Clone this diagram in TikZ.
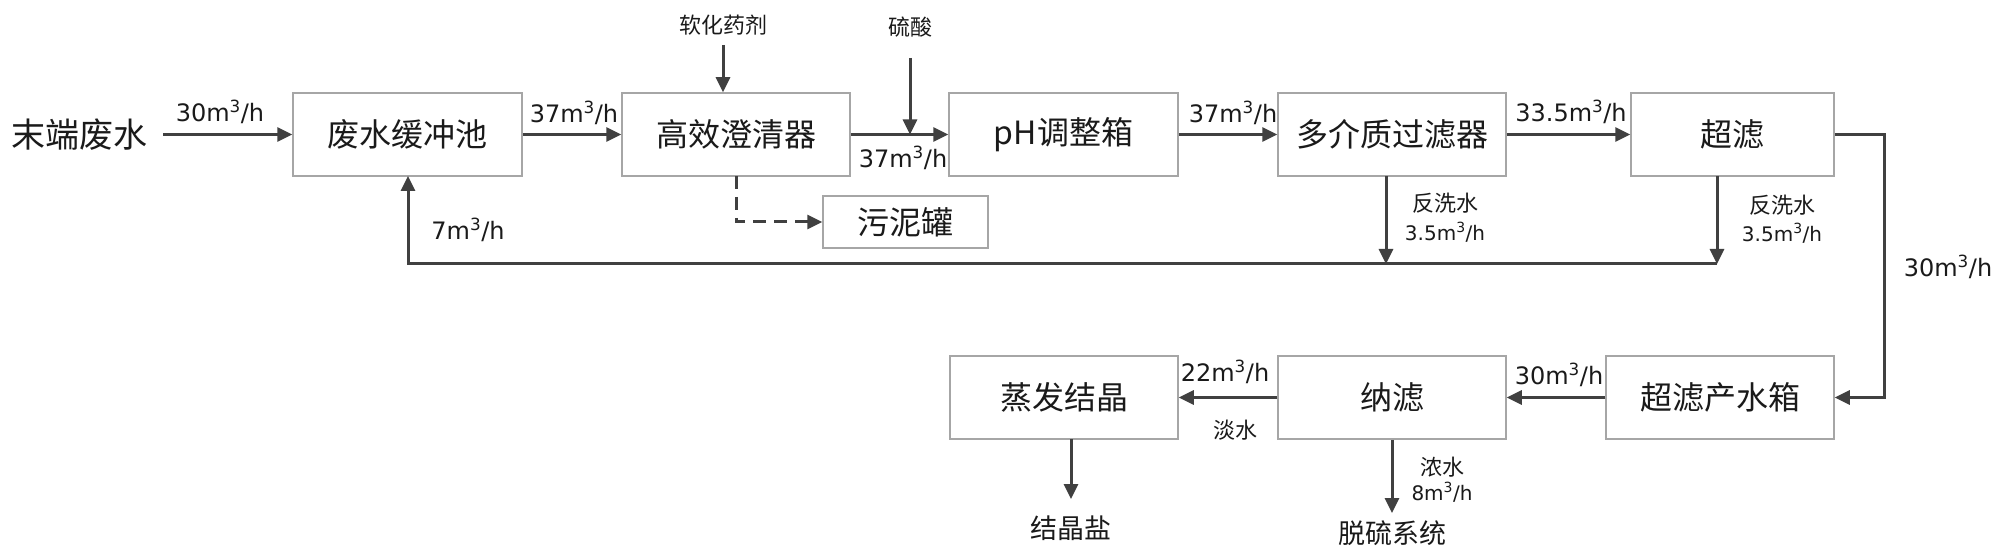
\documentclass[tikz,border=0pt]{standalone}
\usepackage{fontspec}
\setmainfont{DejaVu Sans}
\newfontfamily\cjk{Noto Sans CJK SC}
\usetikzlibrary{arrows.meta}
\definecolor{linegray}{HTML}{404040}
\definecolor{boxgray}{HTML}{A6A6A6}
\definecolor{txt}{HTML}{1A1A1A}
\tikzset{
  box/.style={draw=boxgray, line width=1.5pt, minimum width=228pt, minimum height=83pt,
    inner sep=0pt, text=txt, font=\cjk\fontsize{32}{32}\selectfont},
  flow/.style={draw=linegray, line width=3pt, -{Triangle[length=15pt,width=14pt]}},
  plainline/.style={draw=linegray, line width=3pt},
  dashflow/.style={draw=linegray, line width=3pt, dash pattern=on 13pt off 8pt, -{Triangle[length=15pt,width=14pt]}},
  lab/.style={inner sep=0pt, text=txt, font=\fontsize{24}{24}\selectfont},
  slab/.style={inner sep=0pt, text=txt, font=\fontsize{20}{20}\selectfont},
  cnsmall/.style={inner sep=0pt, text=txt, font=\cjk\fontsize{22}{22}\selectfont},
  cnmid/.style={inner sep=0pt, text=txt, font=\cjk\fontsize{27}{27}\selectfont},
  cnbig/.style={inner sep=0pt, text=txt, font=\cjk\fontsize{34}{34}\selectfont},
}
\newcommand{\flowunit}[1]{#1m\textsuperscript{3}/h}
\begin{document}
\begin{tikzpicture}[x=1pt,y=-1pt]
\fill[white] (0,0) rectangle (2000,553);
\useasboundingbox (0,0) rectangle (2000,553);

% boxes
\node[box, minimum width=229pt] (buf) at (407.5,134.5) {废水缓冲池};
\node[box] (clar) at (736,134.5) {高效澄清器};
\node[box, minimum width=229pt] (ph) at (1063.5,134.5) {pH调整箱};
\node[box] (mmf) at (1392,134.5) {多介质过滤器};
\node[box, minimum width=203pt] (uf) at (1732.5,134.5) {超滤};
\node[box, minimum width=165pt, minimum height=52pt] (sludge) at (905.5,222) {污泥罐};
\node[box] (evap) at (1064,397.5) {蒸发结晶};
\node[box] (nf) at (1392,397.5) {纳滤};
\node[box] (uft) at (1720,397.5) {超滤产水箱};

% free texts
\node[cnbig] (src) at (80,135) {末端废水};
\node[cnsmall] (soft) at (723,25) {软化药剂};
\node[cnsmall] (acid) at (910,27) {硫酸};
\node[cnmid] (salt) at (1071,528) {结晶盐};
\node[cnmid] (fgd) at (1392,533) {脱硫系统};

% helper coordinates
\coordinate (srcout) at (163,134.5);
\coordinate (softin) at (723,45);
\coordinate (acidin) at (910,58);
\coordinate (acidjoin) at (910,134.5);
\coordinate (ufcorner1) at (1884,134.5);
\coordinate (ufcorner2) at (1884,397.5);
\coordinate (mmfout) at (1386,176);
\coordinate (mmfjoin) at (1386,264);
\coordinate (ufout) at (1717,176);
\coordinate (ufjoin) at (1717,264);
\coordinate (fbcorner) at (408,264);
\coordinate (fbend) at (408,176);
\coordinate (clarout) at (736,176);
\coordinate (dcorner) at (736,222);
\coordinate (evapout) at (1071,439);
\coordinate (evapend) at (1071,499);
\coordinate (nfend) at (1392,513);

% main flows
\draw[flow] (srcout) -- (buf.west);
\draw[flow] (buf.east) -- (clar.west);
\draw[flow] (clar.east) -- (ph.west);
\draw[flow] (softin) -- (soft.south |- clar.north);
\draw[flow] (acidin) -- (acidjoin);
\draw[flow] (ph.east) -- (mmf.west);
\draw[flow] (mmf.east) -- (uf.west);
\draw[flow] (uf.east) -- (ufcorner1) -- (ufcorner2) -- (uft.east);
\draw[flow] (uft.west) -- (nf.east);
\draw[flow] (nf.west) -- (evap.east);
\draw[flow] (evapout) -- (evapend);
\draw[flow] (nf.south) -- (nfend);
% backwash
\draw[flow] (mmfout) -- (mmfjoin);
\draw[flow] (ufout) -- (ufjoin);
\draw[flow] (ufjoin) -- (fbcorner) -- (fbend);
% sludge
\draw[dashflow] (clarout) -- (dcorner) -- (sludge.west);

% labels
\node[lab] at (220,112) {\flowunit{30}};
\node[lab] at (574,113) {\flowunit{37}};
\node[lab] at (903,158) {\flowunit{37}};
\node[lab] at (1233,113) {\flowunit{37}};
\node[lab] at (1571,112) {\flowunit{33.5}};
\node[lab] at (1948,267) {\flowunit{30}};
\node[lab] at (468,230) {\flowunit{7}};
\node[lab] at (1559,375) {\flowunit{30}};
\node[lab] at (1225,372) {\flowunit{22}};
\node[cnsmall] at (1235,430) {淡水};
\node[cnsmall] at (1445,203) {反洗水};
\node[slab] at (1445,232) {\flowunit{3.5}};
\node[cnsmall] at (1782,205) {反洗水};
\node[slab] at (1782,233) {\flowunit{3.5}};
\node[cnsmall] at (1442,467) {浓水};
\node[slab] at (1442,492) {\flowunit{8}};
\end{tikzpicture}
\end{document}
